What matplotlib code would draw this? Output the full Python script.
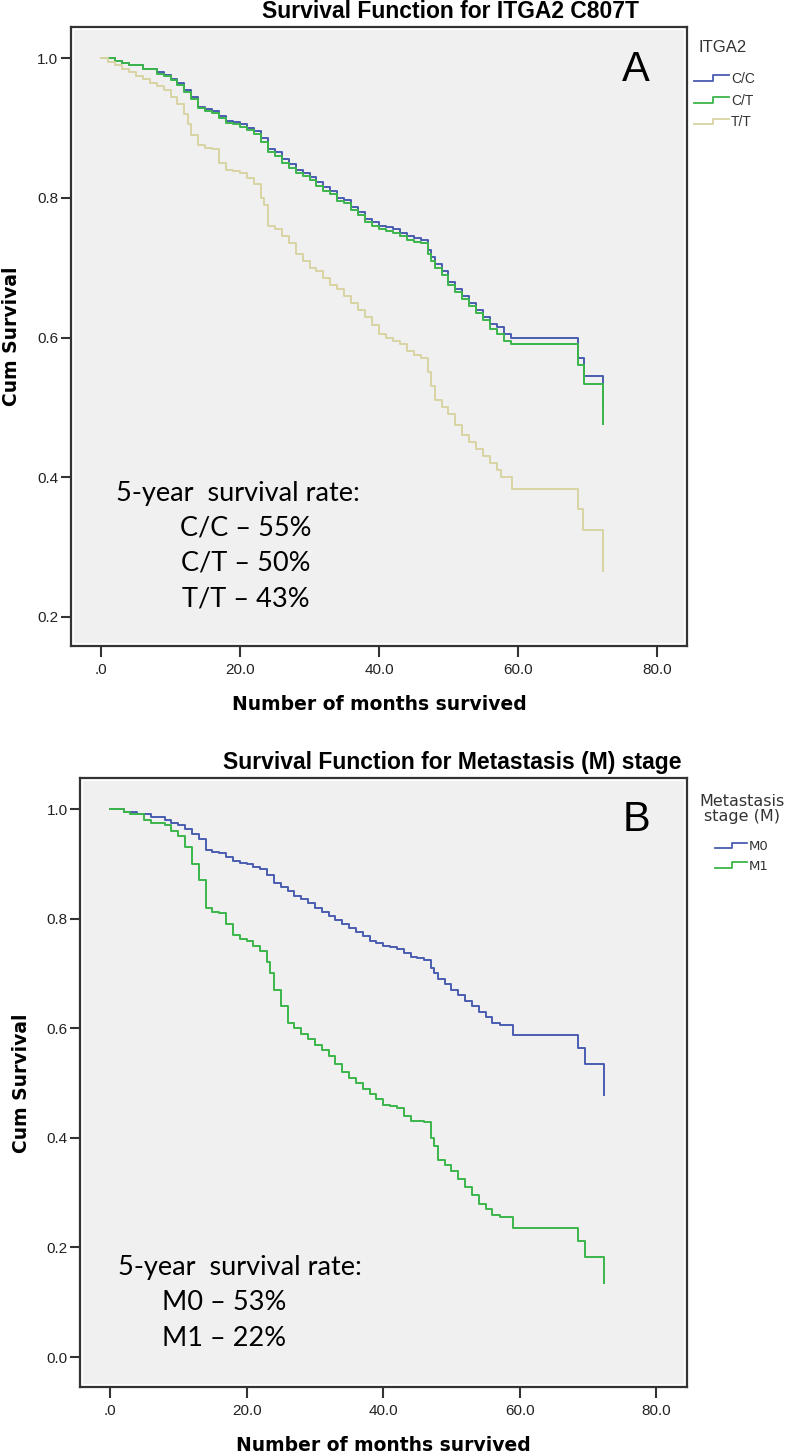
import matplotlib
matplotlib.use("Agg")
import matplotlib.pyplot as plt
import numpy as np
from matplotlib.legend_handler import HandlerBase
from matplotlib.lines import Line2D
from matplotlib.patches import Rectangle

W, H = 794, 1452

# ---- data (months, cumulative survival) ----
a_cc_t = [0, 2, 3, 4, 6, 8, 9, 10, 11, 12, 13, 14, 15, 16, 17, 18, 19, 20, 21, 22, 23, 24, 25, 26, 27,
          28, 29, 30, 31, 32, 33, 34, 35, 36, 37, 38, 39, 40, 41, 42, 43, 44, 45, 46, 47, 47.5, 48, 49,
          50, 51, 52, 53, 54, 55, 56, 57, 58, 59, 68.6, 69.5, 72.2]
a_cc_s = [1.0, 0.996, 0.993, 0.99, 0.985, 0.98, 0.976, 0.97, 0.965, 0.955, 0.945, 0.93, 0.927, 0.925,
          0.917, 0.91, 0.908, 0.905, 0.9, 0.895, 0.885, 0.87, 0.865, 0.855, 0.848, 0.84, 0.836, 0.83,
          0.822, 0.815, 0.81, 0.8, 0.797, 0.787, 0.78, 0.77, 0.765, 0.76, 0.758, 0.755, 0.75, 0.745,
          0.742, 0.74, 0.725, 0.715, 0.705, 0.695, 0.68, 0.67, 0.66, 0.65, 0.64, 0.63, 0.62, 0.615,
          0.605, 0.6, 0.57, 0.545, 0.5]
a_ct_t = list(a_cc_t)
a_ct_s = [1.0, 0.996, 0.993, 0.99, 0.985, 0.978, 0.974, 0.968, 0.962, 0.952, 0.942, 0.928, 0.925, 0.922,
          0.914, 0.907, 0.905, 0.902, 0.897, 0.892, 0.88, 0.866, 0.86, 0.85, 0.843, 0.835, 0.831, 0.825,
          0.817, 0.81, 0.805, 0.795, 0.792, 0.782, 0.775, 0.765, 0.76, 0.755, 0.753, 0.75, 0.745, 0.74,
          0.737, 0.735, 0.72, 0.71, 0.7, 0.69, 0.675, 0.665, 0.655, 0.645, 0.635, 0.625, 0.612, 0.605,
          0.595, 0.59, 0.56, 0.534, 0.476]
a_tt_t = [0, 1, 2, 3, 4, 5, 6, 7, 8, 9, 10, 11, 12, 12.5, 13, 14, 15, 16, 17, 18, 19, 20, 21, 22, 23, 23.5,
          24, 25, 26, 27, 28, 29, 30, 31, 32, 33, 34, 35, 36, 37, 38, 39, 40, 41, 42, 43, 44, 45, 46,
          47, 47.5, 48, 49, 50, 51, 52, 53, 54, 55, 56, 57, 57.6, 59.1, 68.6, 69.4, 72.2]
a_tt_s = [1.0, 0.995, 0.99, 0.985, 0.98, 0.975, 0.97, 0.965, 0.96, 0.955, 0.945, 0.935, 0.92, 0.905,
          0.89, 0.875, 0.872, 0.87, 0.85, 0.84, 0.838, 0.835, 0.828, 0.82, 0.8, 0.79, 0.76, 0.755, 0.745,
          0.735, 0.72, 0.71, 0.70, 0.695, 0.685, 0.675, 0.67, 0.66, 0.65, 0.64, 0.63, 0.618, 0.605,
          0.6, 0.595, 0.59, 0.58, 0.575, 0.57, 0.55, 0.53, 0.51, 0.5, 0.49, 0.475, 0.46, 0.45, 0.44,
          0.43, 0.42, 0.41, 0.40, 0.383, 0.354, 0.324, 0.266]

b_m0_t = [0, 2, 4, 6, 8, 9, 10, 11, 12, 13, 14, 15, 16, 17, 18, 19, 20, 21, 22, 23, 24, 25, 26, 27, 28,
          29, 30, 31, 32, 33, 34, 35, 36, 37, 38, 39, 40, 41, 42, 43, 44, 45, 46, 47, 47.5, 48, 49, 50,
          51, 52, 53, 54, 55, 56, 57.1, 59.0, 68.5, 69.5, 72.3]
b_m0_s = [1.0, 0.995, 0.99, 0.985, 0.98, 0.975, 0.97, 0.963, 0.955, 0.945, 0.925, 0.922, 0.92, 0.912,
          0.905, 0.902, 0.9, 0.895, 0.89, 0.88, 0.865, 0.858, 0.85, 0.842, 0.835, 0.828, 0.82, 0.812,
          0.805, 0.798, 0.79, 0.783, 0.775, 0.768, 0.76, 0.755, 0.75, 0.748, 0.745, 0.738, 0.73, 0.728,
          0.725, 0.71, 0.70, 0.69, 0.68, 0.67, 0.66, 0.65, 0.64, 0.63, 0.62, 0.61, 0.606, 0.588, 0.564,
          0.535, 0.478]
b_m1_t = [0, 2, 3, 5, 6, 8, 9, 10, 11, 12, 13, 14, 15, 16, 17, 18, 19, 20, 21, 22, 23, 23.5, 24, 25, 26,
          27, 28, 29, 30, 31, 32, 33, 34, 35, 36, 37, 38, 39, 40, 41, 42, 43, 44, 45, 46, 47, 47.5, 48,
          49, 50, 51, 52, 53, 54, 55, 56, 57.1, 59.0, 68.5, 69.5, 72.3]
b_m1_s = [1.0, 0.995, 0.99, 0.98, 0.975, 0.97, 0.96, 0.95, 0.93, 0.90, 0.87, 0.82, 0.812, 0.81, 0.79,
          0.77, 0.762, 0.76, 0.75, 0.74, 0.72, 0.70, 0.67, 0.64, 0.61, 0.60, 0.59, 0.58, 0.57, 0.56,
          0.55, 0.535, 0.52, 0.51, 0.50, 0.49, 0.48, 0.47, 0.46, 0.458, 0.455, 0.44, 0.43, 0.43, 0.428,
          0.40, 0.385, 0.36, 0.35, 0.34, 0.325, 0.31, 0.295, 0.28, 0.27, 0.26, 0.256, 0.235, 0.212,
          0.183, 0.135]

a_labels = ["C/C", "C/T", "T/T"]
b_labels = ["M0", "M1"]
a_note = ["5-year  survival rate:", "C/C \u2013 55%", "C/T \u2013 50%", "T/T \u2013 43%"]
b_note = ["5-year  survival rate:", "M0 \u2013 53%", "M1 \u2013 22%"]

BLUE = "#4a5cb0"
GREEN = "#3cb54a"
TAN = "#d9d4a2"
BG = "#f0f0f0"


def fx(x):
    return x / W


def fy(y):
    return 1 - y / H


class StepHandler(HandlerBase):
    def create_artists(self, legend, orig_handle, xdescent, ydescent, width, height, fontsize, trans):
        xs = np.array([0, 0.55, 0.55, 1.0]) * width - xdescent
        ys = np.array([0.2, 0.2, 0.8, 0.8]) * height - ydescent
        ln = Line2D(xs, ys, color=orig_handle.get_color(), lw=1.3)
        ln.set_transform(trans)
        return [ln]


fig = plt.figure(figsize=(W / 100, H / 100), dpi=100)


def style_axes(ax, xlim, ylim, yticks, wpx, hpx):
    ax.set_facecolor("white")
    # grey plot area with a thin white margin inside the frame
    m = 3.0
    ax.add_patch(Rectangle((m / wpx, m / hpx), 1 - 2 * m / wpx, 1 - 2 * m / hpx,
                           transform=ax.transAxes, facecolor=BG, edgecolor="none", zorder=0))
    ax.set_xlim(*xlim)
    ax.set_ylim(*ylim)
    ax.set_xticks([0, 20, 40, 60, 80], [".0", "20.0", "40.0", "60.0", "80.0"])
    ax.set_yticks(yticks, ["%.1f" % v for v in yticks])
    for s in ax.spines.values():
        s.set_linewidth(1.6)
        s.set_color("#333333")
    ax.tick_params(axis="x", length=8, width=1.5, color="#333333", pad=4, labelsize=11,
                   labelcolor="#222222")
    ax.tick_params(axis="y", length=7, width=1.5, color="#333333", pad=2, labelsize=11,
                   labelcolor="#222222")
    for lab in ax.get_xticklabels() + ax.get_yticklabels():
        lab.set_family("Liberation Sans")


# ---- panel A ----
axA = fig.add_axes([fx(71), fy(646), fx(687) - fx(71), fy(27) - fy(646)])
style_axes(axA, (-4.32, 84.32), (0.1583, 1.0446), [0.2, 0.4, 0.6, 0.8, 1.0], 616, 619)
lA = []
for t, s, c in [(a_cc_t, a_cc_s, BLUE), (a_ct_t, a_ct_s, GREEN), (a_tt_t, a_tt_s, TAN)]:
    ln, = axA.step(t, s, where="post", color=c, lw=1.4)
    lA.append(ln)
axA.set_xlabel("Number of months survived", fontsize=13.5, fontweight="bold",
               family="DejaVu Sans", labelpad=13)
fig.text(fx(12), fy(336), "Cum Survival", rotation=90, fontsize=13.5, fontweight="bold",
         family="DejaVu Sans", ha="center", va="center")
fig.text(fx(450), fy(12), "Survival Function for ITGA2 C807T", fontsize=16.5, fontweight="bold",
         family="Liberation Sans", ha="center", va="center")
fig.text(fx(636), fy(70), "A", fontsize=30, family="Liberation Sans", ha="center", va="center")
fig.text(fx(698), fy(48), "ITGA2", fontsize=12, family="Liberation Sans", color="#333333",
         ha="left", va="center")
legA = axA.legend(lA, a_labels, loc="upper left",
                  bbox_to_anchor=(fx(694), fy(72)), bbox_transform=fig.transFigure,
                  frameon=False, handler_map={Line2D: StepHandler()},
                  prop={"family": "Liberation Sans", "size": 10}, handlelength=2.5,
                  handletextpad=0.15, labelspacing=0.55, borderpad=0, borderaxespad=0)
for txt in legA.get_texts():
    txt.set_color("#333333")

ys = [493, 528, 563, 599]
fig.text(fx(238), fy(ys[0]), a_note[0], fontsize=19.5, family="Lato", ha="center", va="center")
for txt, yy in zip(a_note[1:], ys[1:]):
    fig.text(fx(246), fy(yy), txt, fontsize=19.5, family="Lato", ha="center", va="center")

# ---- panel B ----
axB = fig.add_axes([fx(80), fy(1387), fx(687) - fx(80), fy(778) - fy(1387)])
style_axes(axB, (-4.39, 84.48), (-0.0547, 1.0566), [0.0, 0.2, 0.4, 0.6, 0.8, 1.0], 607, 609)
lB = []
for t, s, c in [(b_m0_t, b_m0_s, BLUE), (b_m1_t, b_m1_s, GREEN)]:
    ln, = axB.step(t, s, where="post", color=c, lw=1.4)
    lB.append(ln)
axB.set_xlabel("Number of months survived", fontsize=13.5, fontweight="bold",
               family="DejaVu Sans", labelpad=13)
fig.text(fx(22), fy(1083), "Cum Survival", rotation=90, fontsize=13.5, fontweight="bold",
         family="DejaVu Sans", ha="center", va="center")
fig.text(fx(452), fy(763), "Survival Function for Metastasis (M) stage", fontsize=16.5,
         fontweight="bold", family="Liberation Sans", ha="center", va="center")
fig.text(fx(636), fy(820), "B", fontsize=30, family="Liberation Sans", ha="center", va="center")
fig.text(fx(742), fy(809), "Metastasis\nstage (M)", fontsize=11.5, family="DejaVu Sans",
         color="#333333", ha="center", va="center", multialignment="center", linespacing=1.05)
legB = axB.legend(lB, b_labels, loc="upper left",
                  bbox_to_anchor=(fx(715), fy(840)), bbox_transform=fig.transFigure,
                  frameon=False, handler_map={Line2D: StepHandler()},
                  prop={"family": "DejaVu Sans", "size": 9.5}, handlelength=2.4,
                  handletextpad=0.15, labelspacing=0.5, borderpad=0, borderaxespad=0)
for txt in legB.get_texts():
    txt.set_color("#333333")

ys = [1267, 1303, 1339]
fig.text(fx(240), fy(ys[0]), b_note[0], fontsize=19.5, family="Lato", ha="center", va="center")
for txt, yy in zip(b_note[1:], ys[1:]):
    fig.text(fx(224), fy(yy), txt, fontsize=19.5, family="Lato", ha="center", va="center")

fig.savefig("out.png", dpi=100, facecolor="white")
